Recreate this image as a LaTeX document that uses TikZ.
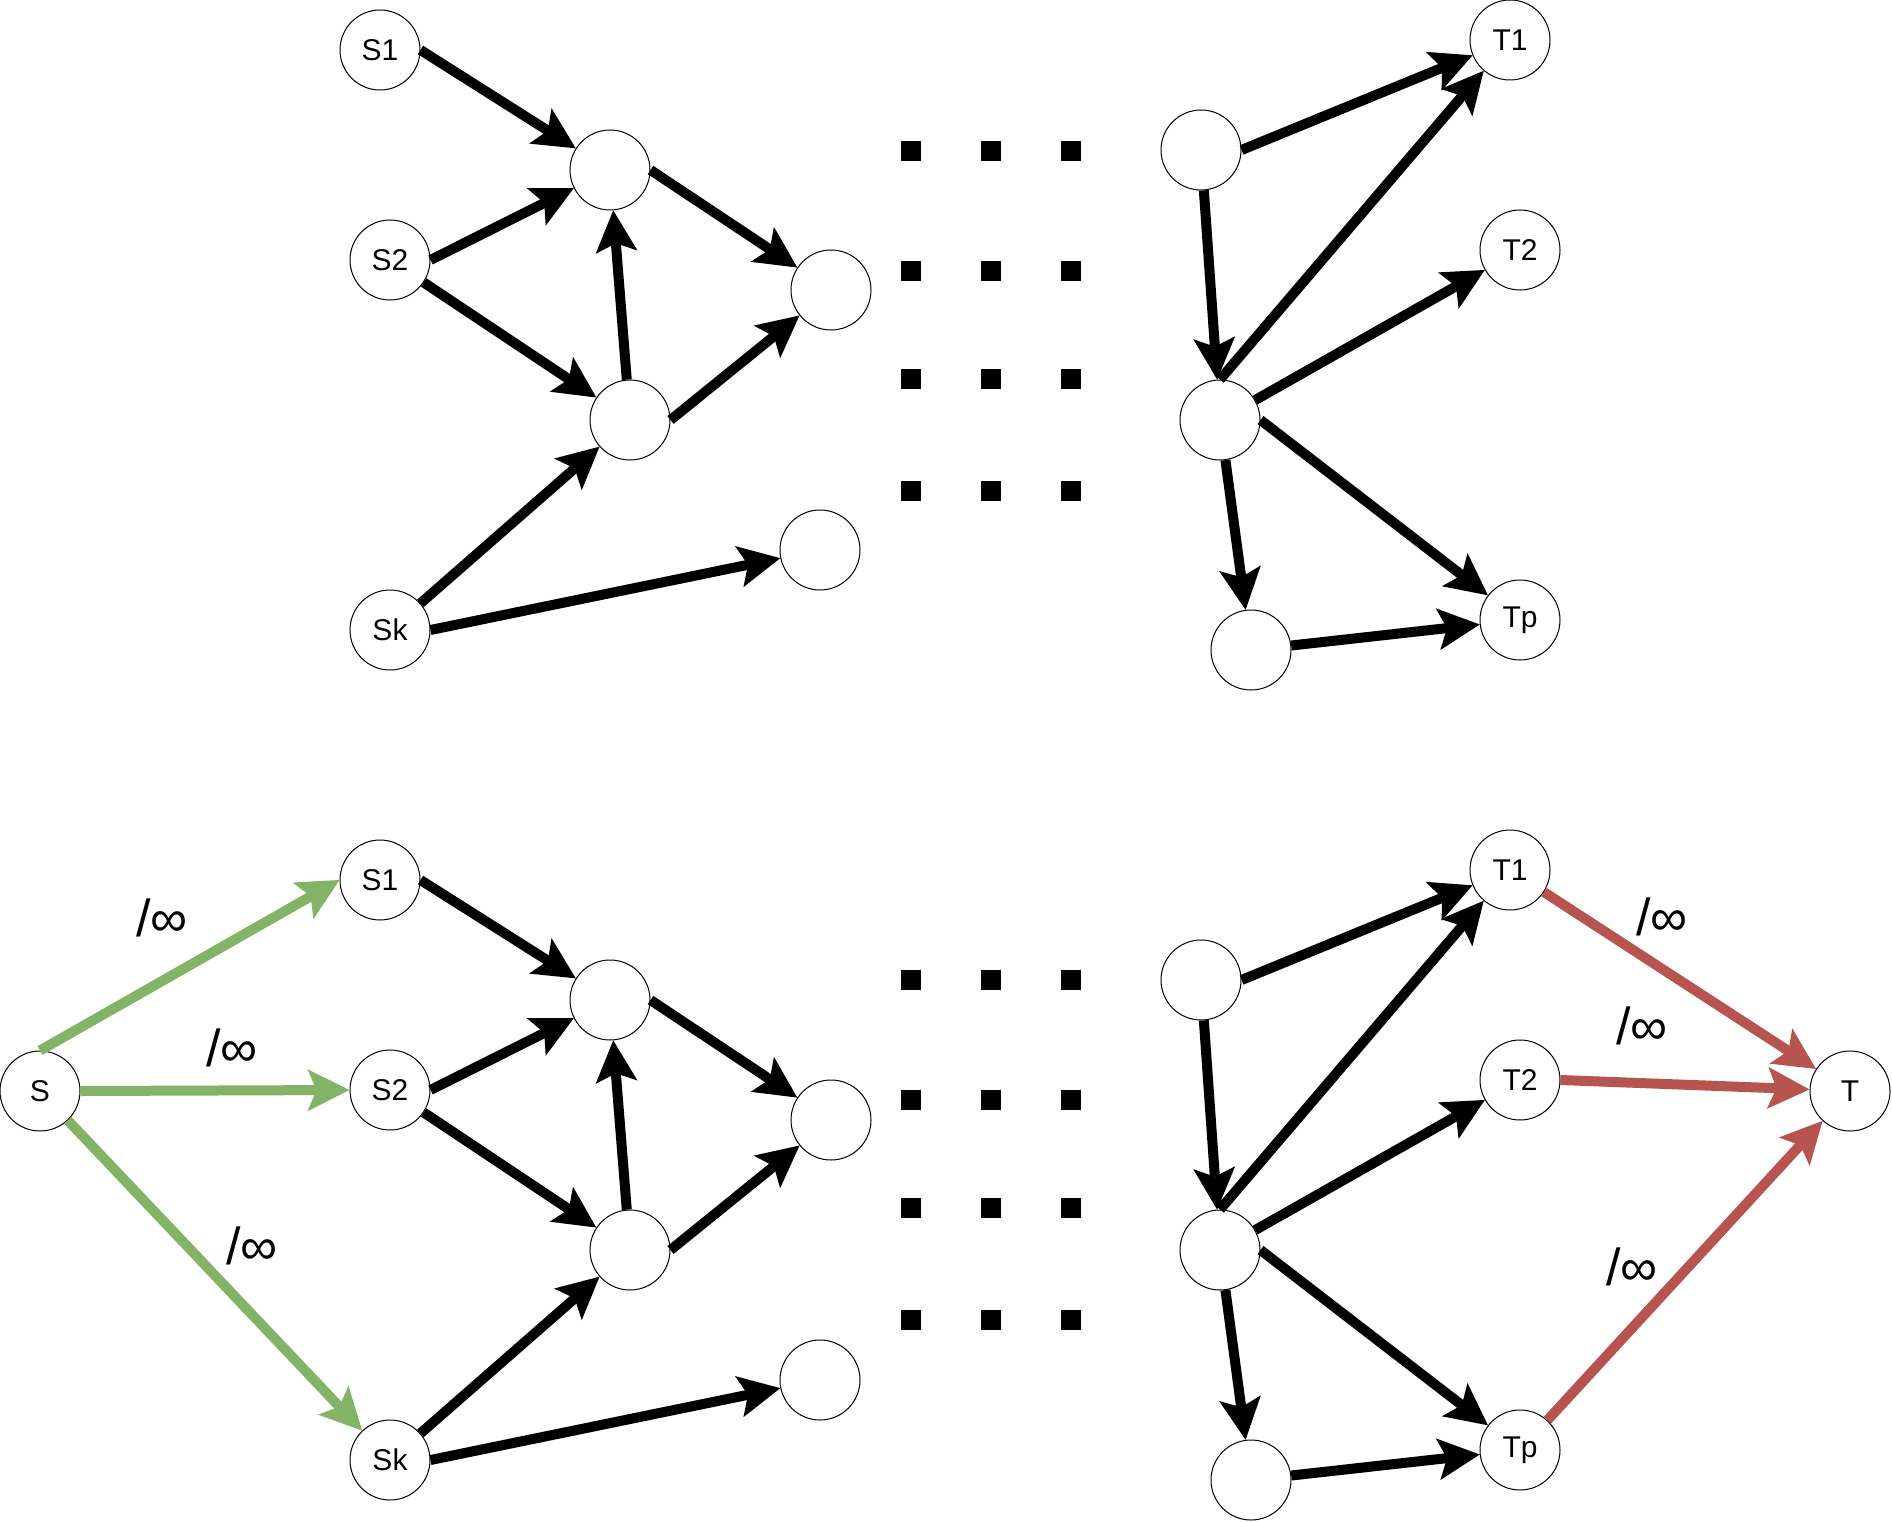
\documentclass[tikz,border=0pt]{standalone}
\usepackage{fontspec}
\setmainfont{Liberation Sans}
\usetikzlibrary{arrows.meta}
\definecolor{grn}{HTML}{82B366}
\definecolor{rd}{HTML}{B85450}
\tikzset{
  vtx/.style={circle,draw=black,line width=1pt,fill=white,minimum size=80pt,inner sep=0pt,
    font=\fontsize{30}{36}\selectfont},
  arr/.style={line width=10pt,-{Stealth[length=42pt,width=42pt,inset=9pt,line width=0pt]}},
  garr/.style={arr,draw=grn},
  rarr/.style={arr,draw=rd},
  dot/.style={fill=black,minimum size=20pt,inner sep=0pt,draw=none},
  lbl/.style={font=\fontsize{52}{60}\selectfont}
}
\begin{document}
\begin{tikzpicture}[x=1pt,y=-1pt]
\useasboundingbox (0,0) rectangle (1892,1522);
\foreach \dy/\p in {0/u,830/l}{
  \begin{scope}[yshift=-\dy pt]
  \node[vtx] (S1\p) at (380,50) {S1};
  \node[vtx] (S2\p) at (390,260) {S2};
  \node[vtx] (Sk\p) at (390,630) {Sk};
  \node[vtx] (A\p) at (610,170) {};
  \node[vtx] (B\p) at (630,420) {};
  \node[vtx] (C\p) at (831,290) {};
  \node[vtx] (D\p) at (820,550) {};
  \node[vtx] (E\p) at (1201,150) {};
  \node[vtx] (F\p) at (1220,420) {};
  \node[vtx] (G\p) at (1251,650) {};
  \node[vtx] (T1\p) at (1510,40) {T1};
  \node[vtx] (T2\p) at (1520,250) {T2};
  \node[vtx] (Tp\p) at (1520,620) {Tp};
  \foreach \r [count=\i] in {151,271,379,491}{
    \foreach \c [count=\j] in {911,991,1071}{
      \node[dot] (d\p\i\j) at (\c,\r-1.5*\dy/830) {};
    }
  }
  \end{scope}
  \draw[arr] (S1\p.east) -- (A\p);
  \draw[arr] (S2\p.east) -- (A\p);
  \draw[arr] (S2\p) -- (B\p);
  \draw[arr] (B\p) -- (A\p);
  \draw[arr] (A\p.east) -- (C\p);
  \draw[arr] (B\p.east) -- (C\p);
  \draw[arr] (Sk\p) -- (B\p);
  \draw[arr] (Sk\p.east) -- (D\p);
  \draw[arr] (E\p.east) -- (T1\p);
  \draw[arr] (E\p) -- (F\p);
  \draw[arr] (F\p.north) -- (T1\p);
  \draw[arr] (F\p) -- (T2\p);
  \draw[arr] (F\p.east) -- (Tp\p);
  \draw[arr] (F\p) -- (G\p);
  \draw[arr] (G\p) -- (Tp\p);
}
\node[vtx] (S) at (40,1091) {S};
\node[vtx] (T) at (1850,1091) {T};
\draw[garr] (S.north) -- (S1l.west);
\draw[garr] (S.east) -- (S2l.west);
\draw[garr] (S) -- (Skl);
\draw[rarr] (T1l) -- (T);
\draw[rarr] (T2l.east) -- (T);
\draw[rarr] (Tpl) -- (T);
\node[lbl] (l1) at (162,918) {/∞};
\node[lbl] (l2) at (232,1048) {/∞};
\node[lbl] (l3) at (252,1246) {/∞};
\node[lbl] (l4) at (1662,917) {/∞};
\node[lbl] (l5) at (1642,1026) {/∞};
\node[lbl] (l6) at (1632,1267) {/∞};
\end{tikzpicture}
\end{document}
